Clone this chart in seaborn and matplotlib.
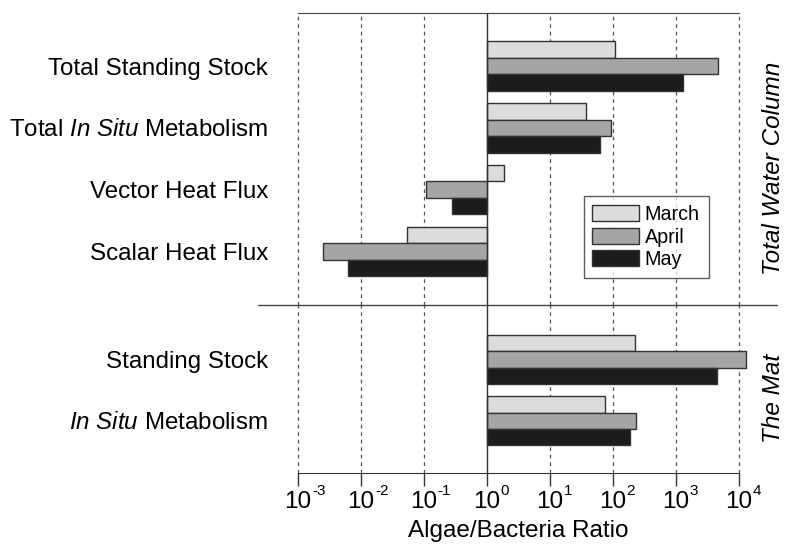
import numpy as np
import pandas as pd
import seaborn as sns
import matplotlib.pyplot as plt
from matplotlib.lines import Line2D

# ratios (algae/bacteria)
water_cats = ['Total Standing Stock', r'Total $\mathit{In\ Situ}$ Metabolism',
              'Vector Heat Flux', 'Scalar Heat Flux']
water_march = [110, 37, 1.9, 0.054]
water_april = [4600, 93, 0.108, 0.0025]
water_may = [1300, 63, 0.28, 0.0063]

mat_cats = ['Standing Stock', r'$\mathit{In\ Situ}$ Metabolism']
mat_march = [222, 76]
mat_april = [13000, 230]
mat_may = [4450, 190]

months = ['March', 'April', 'May']
month_colors = ['#dcdcdc', '#a5a5a5', '#1c1c1c']
decades = list(range(-3, 5))


def long_table(cats, march, april, may):
    rows = []
    for name, vals in zip(months, [march, april, may]):
        for c, v in zip(cats, vals):
            rows.append({'cat': c, 'month': name, 'logratio': np.log10(v)})
    return pd.DataFrame(rows)


df_water = long_table(water_cats, water_march, water_april, water_may)
df_mat = long_table(mat_cats, mat_march, mat_april, mat_may)

sns.set_style('white')
plt.rcParams['font.family'] = ['Liberation Sans', 'DejaVu Sans']
plt.rcParams['mathtext.fontset'] = 'custom'
plt.rcParams['mathtext.rm'] = 'Liberation Sans'
plt.rcParams['mathtext.it'] = 'Liberation Sans:italic'
plt.rcParams['text.color'] = 'black'
plt.rcParams['xtick.color'] = 'black'
plt.rcParams['ytick.color'] = 'black'
plt.rcParams['axes.labelcolor'] = 'black'

fig = plt.figure(figsize=(7.87, 5.49), dpi=100)
ax1 = fig.add_axes([0.3787, 0.4444, 0.56, 0.5319])
ax2 = fig.add_axes([0.3787, 0.1384, 0.56, 0.3060], sharex=ax1)

pal = dict(zip(months, month_colors))
sns.barplot(data=df_water, y='cat', x='logratio', hue='month', hue_order=months,
            order=water_cats, palette=pal, orient='h', width=0.8,
            edgecolor='#333333', linewidth=1, ax=ax1)
sns.barplot(data=df_mat, y='cat', x='logratio', hue='month', hue_order=months,
            order=mat_cats, palette=pal, orient='h', width=0.8,
            edgecolor='#333333', linewidth=1, legend=False, ax=ax2)

for ax in (ax1, ax2):
    ax.set_axisbelow(True)
    for p in ax.patches:
        p.set_clip_on(False)
    for d in decades:
        if d != 0:
            ax.axvline(d, color='#555555', lw=0.9, ls=(0, (3, 3)), zorder=0,
                       clip_on=False)
    ax.axvline(0, color='#333333', lw=1, zorder=3)
    ax.set_ylabel('')
    ax.set_xlabel('')
    ax.tick_params(axis='y', length=0, labelsize=17.4, pad=21.5)
    for s in ['left', 'right']:
        ax.spines[s].set_visible(False)

ax1.set_xlim(-3, 4)
ax1.set_ylim(3.87, -0.86)
ax2.set_ylim(1.85, -0.89)

ax1.spines['bottom'].set_visible(False)
ax1.spines['top'].set_color('#444444')
ax2.spines['top'].set_visible(False)
ax2.spines['bottom'].set_color('#333333')
ax1.tick_params(axis='x', bottom=False, labelbottom=False)

# tick labels: "10" with a small raised exponent
ax2.set_xticks(decades)
ax2.set_xticklabels(['10'] * len(decades))
ax2.tick_params(axis='x', direction='out', length=9, width=1, color='#333333',
                labelsize=17.5, pad=4, bottom=True)
for d in decades:
    ax2.annotate(str(d), xy=(d, 0), xycoords=ax2.get_xaxis_transform(),
                 xytext=(10, -15.8), textcoords='offset points',
                 ha='left', va='baseline', fontsize=11, annotation_clip=False)
ax2.set_xlabel('Algae/Bacteria Ratio', fontsize=17.5, labelpad=5)

leg = ax1.legend(loc='upper left', bbox_to_anchor=(0.648, 0.373), borderaxespad=0,
                 fontsize=14.2, frameon=True, fancybox=False, edgecolor='#333333',
                 handlelength=2.35, handleheight=0.85, labelspacing=0.18,
                 handletextpad=0.3, borderpad=0.45, title=None)
leg.get_frame().set_linewidth(1)

fig.text(773 / 787, 1 - 168 / 549, 'Total Water Column', rotation=90,
         ha='center', va='center', fontsize=17.5, style='italic')
fig.text(773 / 787, 1 - 398 / 549, 'The Mat', rotation=90,
         ha='center', va='center', fontsize=17.5, style='italic')

fig.add_artist(Line2D([258 / 787, 777 / 787], [0.4444, 0.4444],
                      transform=fig.transFigure, color='#444444', lw=1))

fig.savefig('out.png', dpi=100)
